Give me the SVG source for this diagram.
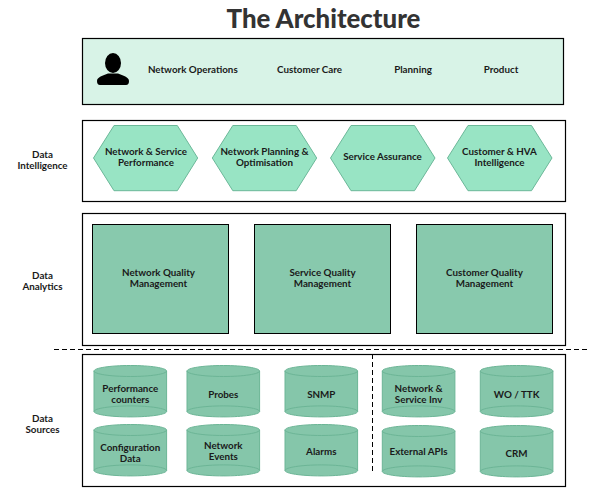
<svg xmlns="http://www.w3.org/2000/svg" width="589" height="493" viewBox="0 0 589 493">
<style>
text{font-family:"Lato","Liberation Sans",sans-serif;font-weight:700;font-size:9.8px;fill:#1a1a1a;text-anchor:middle}
.box{fill:none;stroke:#000;stroke-width:1.2}
.hex{fill:#98e4c4;stroke:#6cb899;stroke-width:1}
.sq{fill:#88c9ad;stroke:#000;stroke-width:1}
.cyl{fill:#85c6aa;stroke:#6cb596;stroke-width:1}
.dash{fill:none;stroke:#000;stroke-width:1;stroke-dasharray:5 3}
</style>
<defs>
<g id="cyl">
<path class="cyl" d="M0 5.500C0 2.500 16 0 36.300 0S72.600 2.500 72.600 5.500V46C72.600 49 56.600 51.400 36.300 51.400S0 49 0 46Z"/>
<path class="cyl" style="fill:none" d="M0 5.500C0 8.500 16 11 36.300 11S72.600 8.500 72.600 5.500M0 46C0 43 16 40.400 36.300 40.400S72.600 43 72.600 46"/>
</g>
</defs>
<text x="323.500" y="27.500" style="font-size:25.800px;font-weight:900;fill:#333">The Architecture</text>

<g id="personas">
<rect x="82.500" y="38.500" width="481" height="66" fill="#d8f3e7" stroke="#000" stroke-width="1.200"/>
<ellipse cx="113" cy="63" rx="8" ry="10" fill="#000"/>
<path d="M97 81C97 77 103 75.500 108 73.500H118C123 75.500 129 77 129 81Q129 85 126 85H100Q97 85 97 81Z" fill="#000"/>
<text x="192.800" y="73">Network Operations</text>
<text x="309.500" y="73">Customer Care</text>
<text x="413" y="73">Planning</text>
<text x="501" y="73">Product</text>
</g>

<g id="data-intelligence">
<text x="42.500" y="158">Data</text>
<text x="42.500" y="169">Intelligence</text>
<rect class="box" x="82.500" y="120.500" width="483" height="81"/>
</g>
<g id="hex1"><path class="hex" d="M93.500 158L114 125.500H177.300L197.700 158L177.300 190.700H114Z"/><text x="146" y="155">Network &amp; Service</text><text x="146" y="166">Performance</text></g>
<g id="hex2"><path class="hex" d="M212.300 158L232.800 125.500H296.200L316.700 158L296.200 190.700H232.800Z"/><text x="264.500" y="155">Network Planning &amp;</text><text x="264.500" y="166">Optimisation</text></g>
<g id="hex3"><path class="hex" d="M330.500 158L351 125.500H414.500L435 158L414.500 190.700H351Z"/><text x="382.500" y="160">Service Assurance</text></g>
<g id="hex4"><path class="hex" d="M447.500 158L468 125.500H531.500L552 158L531.500 190.700H468Z"/><text x="499.500" y="155">Customer &amp; HVA</text><text x="499.500" y="166">Intelligence</text></g>

<g id="data-analytics">
<text x="42.500" y="279">Data</text>
<text x="42.500" y="290">Analytics</text>
<rect class="box" x="82.500" y="213.500" width="483" height="132"/>
</g>
<g id="sq1"><rect class="sq" x="92.500" y="224.500" width="136" height="109"/><text x="158.500" y="276">Network Quality</text><text x="158.500" y="287">Management</text></g>
<g id="sq2"><rect class="sq" x="254.500" y="224.500" width="136" height="109"/><text x="322.500" y="276">Service Quality</text><text x="322.500" y="287">Management</text></g>
<g id="sq3"><rect class="sq" x="416.500" y="224.500" width="136" height="109"/><text x="484.500" y="276">Customer Quality</text><text x="484.500" y="287">Management</text></g>

<g id="connectors">
<path class="dash" d="M54 349.500H587"/>
<path class="dash" d="M372.500 354V474"/>
</g>

<g id="data-sources">
<text x="42.500" y="422">Data</text>
<text x="42.500" y="433">Sources</text>
<rect class="box" x="82.500" y="354.500" width="483" height="132"/>
</g>
<g id="c1"><use href="#cyl" x="94" y="365.500"/><text x="130.300" y="392">Performance</text><text x="130.300" y="403">counters</text></g>
<g id="c2"><use href="#cyl" x="187" y="365.500"/><text x="223.300" y="398">Probes</text></g>
<g id="c3"><use href="#cyl" x="285" y="365.500"/><text x="321.300" y="398">SNMP</text></g>
<g id="c4"><use href="#cyl" x="382.300" y="365.500"/><text x="418.600" y="392">Network &amp;</text><text x="418.600" y="403">Service Inv</text></g>
<g id="c5"><use href="#cyl" x="480.300" y="365.500"/><text x="516.600" y="398">WO / TTK</text></g>
<g id="c6"><use href="#cyl" x="94" y="424.500"/><text x="130.300" y="451">Configuration</text><text x="130.300" y="462">Data</text></g>
<g id="c7"><use href="#cyl" x="187" y="424.500"/><text x="223.300" y="449">Network</text><text x="223.300" y="460">Events</text></g>
<g id="c8"><use href="#cyl" x="285" y="424.500"/><text x="321.300" y="455">Alarms</text></g>
<g id="c9"><use href="#cyl" x="382.300" y="425.500"/><text x="418.600" y="455">External APIs</text></g>
<g id="c10"><use href="#cyl" x="480.300" y="425.500"/><text x="516.600" y="457">CRM</text></g>
</svg>
